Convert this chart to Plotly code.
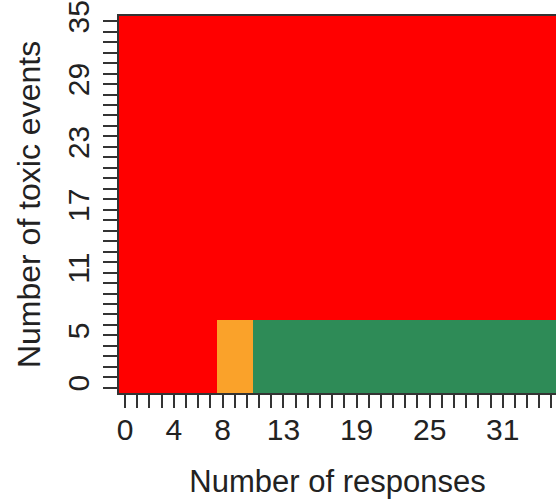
import plotly.graph_objects as go

# Grid of trial outcomes
n_responses = list(range(0, 41))      # number of responses (x)
n_toxic = list(range(0, 36))          # number of toxic events (y)

# Decision boundaries
max_toxic_ok = 6          # toxic events allowed for a non-stop decision
min_resp_continue = 8     # responses needed to continue
min_resp_go = 11          # responses needed for a go decision

# Decision code per cell: 0 = stop, 1 = continue, 2 = go
decision = []
for t in n_toxic:
    row = []
    for r in n_responses:
        if t <= max_toxic_ok and r >= min_resp_go:
            row.append(2)
        elif t <= max_toxic_ok and r >= min_resp_continue:
            row.append(1)
        else:
            row.append(0)
    decision.append(row)

x_labels = [0, 4, 8, 13, 19, 25, 31]
y_labels = [0, 5, 11, 17, 23, 29, 35]

colors = ["#FF0000", "#FAA22A", "#2E8B57"]
colorscale = [
    [0.0, colors[0]], [1 / 3, colors[0]],
    [1 / 3, colors[1]], [2 / 3, colors[1]],
    [2 / 3, colors[2]], [1.0, colors[2]],
]

fig = go.Figure(
    go.Heatmap(
        x=n_responses,
        y=n_toxic,
        z=decision,
        zmin=0,
        zmax=2,
        colorscale=colorscale,
        showscale=False,
        hoverinfo="skip",
    )
)

font = dict(family="Liberation Sans, Arial, sans-serif", color="#222222")

fig.update_layout(
    width=556,
    height=499,
    margin=dict(l=119, r=0, t=12, b=106),
    paper_bgcolor="white",
    plot_bgcolor="white",
    font=font,
    showlegend=False,
)

fig.update_xaxes(
    range=[-0.5, 35.37],
    tickvals=n_responses,
    ticktext=[str(v) if v in x_labels else "" for v in n_responses],
    ticks="outside",
    ticklen=13,
    tickwidth=2,
    tickcolor="#333333",
    tickfont=dict(size=30),
    ticklabeloverflow="allow",
    ticklabelstandoff=-4,
    showline=True,
    mirror=True,
    linecolor="#333333",
    linewidth=2,
    showgrid=False,
    zeroline=False,
    title=dict(text="Number of responses", font=dict(size=31), standoff=26),
)

fig.update_yaxes(
    range=[-0.5, 35.5],
    tickvals=n_toxic,
    ticktext=[str(v) if v in y_labels else "" for v in n_toxic],
    ticks="outside",
    ticklen=14,
    tickwidth=2,
    tickcolor="#333333",
    tickangle=-90,
    tickfont=dict(size=30),
    ticklabeloverflow="allow",
    ticklabelstandoff=2,
    showline=True,
    mirror=False,
    linecolor="#333333",
    linewidth=2,
    showgrid=False,
    zeroline=False,
    title=dict(text="Number of toxic events", font=dict(size=32), standoff=12),
)

fig.write_html("out.html")
